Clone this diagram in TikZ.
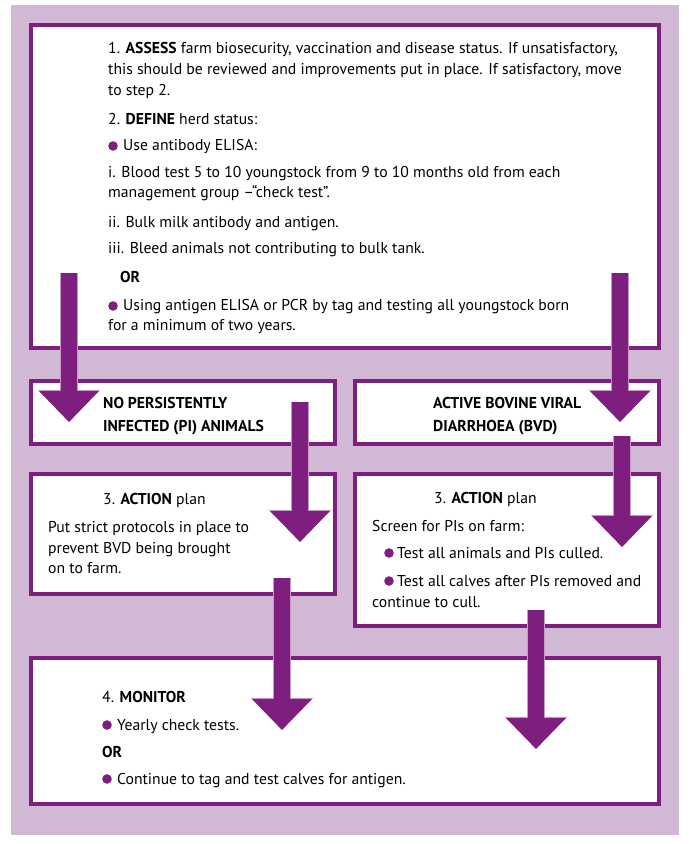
\documentclass[tikz,border=0pt]{standalone}
\usepackage{fontspec}
\setmainfont{PT Sans}
\usetikzlibrary{arrows.meta}
\definecolor{bvdpurple}{RGB}{126,30,126}
\definecolor{bvdlilac}{RGB}{209,185,213}
\begin{document}
\begin{tikzpicture}[x=1pt,y=-1pt,
                    box/.style = {draw=bvdpurple,
                                line width=4pt,
                                fill=white,
                                inner sep=0pt,
                                outer sep=0pt,
                                anchor=north west},
                    txt/.style = {anchor=base west,
                                inner sep=0pt,
                                font=\fontsize{15.7}{20}\selectfont},
                    dot/.style = {fill=bvdpurple},
                    bigarrow/.style = {draw=bvdpurple,
                                line width=16pt,
                                -{Triangle[width=58pt,length=31pt]},
                                preaction={draw=bvdpurple!45!white,
                                    line width=17.4pt,
                                    -{Triangle[width=60.5pt,length=32.2pt]}}}]
                    \useasboundingbox (0,0) rectangle (689,844);
                    % Background panel
                    \fill[bvdlilac] (11,5) rectangle (679,835);
                    % Boxes
                    \node[box,minimum width=628pt,minimum height=323pt] (assess) at (31,25) {};
                    \node[box,minimum width=304pt,minimum height=63pt] (nopi) at (31,381) {};
                    \node[box,minimum width=304pt,minimum height=63pt] (bvd) at (355,381) {};
                    \node[box,minimum width=304pt,minimum height=120pt] (actnopi) at (31,474) {};
                    \node[box,minimum width=304pt,minimum height=152pt] (actbvd) at (355,474) {};
                    \node[box,minimum width=628pt,minimum height=146pt] (monitor) at (31,658) {};
                    % Step 1 and 2
                    \node[txt] (as1) at (108,53) {1. \textbf{ASSESS} farm biosecurity, vaccination and disease status. If unsatisfactory,};
                    \node[txt] (as2) at (108,74) {this should be reviewed and improvements put in place. If satisfactory, move};
                    \node[txt] (as3) at (108,95) {to step 2.};
                    \node[txt] (as4) at (108,124) {2. \textbf{DEFINE} herd status:};
                    \fill[dot] (113,146) circle (4.8);
                    \node[txt] (as5) at (123,150) {Use antibody ELISA:};
                    \node[txt] (as6) at (108,177) {i. Blood test 5 to 10 youngstock from 9 to 10 months old from each};
                    \node[txt] (as7) at (108,197) {management group –“check test”.};
                    \node[txt] (as8) at (108,227) {ii. Bulk milk antibody and antigen.};
                    \node[txt] (as9) at (108,253) {iii. Bleed animals not contributing to bulk tank.};
                    \node[txt] (as10) at (120,282) {\textbf{OR}};
                    \fill[dot] (113,306) circle (4.8);
                    \node[txt] (as11) at (123,310) {Using antigen ELISA or PCR by tag and testing all youngstock born};
                    \node[txt] (as12) at (108,330) {for a minimum of two years.};
                    % Herd status
                    \node[txt] (np1) at (103,408) {\textbf{NO PERSISTENTLY}};
                    \node[txt] (np2) at (103,431) {\textbf{INFECTED (PI) ANIMALS}};
                    \node[txt] (bv1) at (433,408) {\textbf{ACTIVE BOVINE VIRAL}};
                    \node[txt] (bv2) at (433,431) {\textbf{DIARRHOEA (BVD)}};
                    % Step 3
                    \node[txt] (an1) at (103,504) {3. \textbf{ACTION} plan};
                    \node[txt] (an2) at (48,532) {Put strict protocols in place to};
                    \node[txt] (an3) at (48,553) {prevent BVD being brought};
                    \node[txt] (an4) at (48,573) {on to farm.};
                    \node[txt] (ab1) at (434,503) {3. \textbf{ACTION} plan};
                    \node[txt] (ab2) at (372,531) {Screen for PIs on farm:};
                    \fill[dot] (389,553) circle (4.8);
                    \node[txt] (ab3) at (397,558) {Test all animals and PIs culled.};
                    \fill[dot] (389,581) circle (4.8);
                    \node[txt] (ab4) at (397,586) {Test all calves after PIs removed and};
                    \node[txt] (ab5) at (372,607) {continue to cull.};
                    % Step 4
                    \node[txt] (mo1) at (102,702) {4. \textbf{MONITOR}};
                    \fill[dot] (107,725) circle (4.8);
                    \node[txt] (mo2) at (117,730) {Yearly check tests.};
                    \node[txt] (mo3) at (102,757) {\textbf{OR}};
                    \fill[dot] (107,779) circle (4.8);
                    \node[txt] (mo4) at (117,784) {Continue to tag and test calves for antigen.};
                    % Arrows
                    \coordinate (a1s) at (69,273);   \coordinate (a1e) at (69,422);
                    \coordinate (a2s) at (620,273);  \coordinate (a2e) at (620,422);
                    \coordinate (a3s) at (300,402);  \coordinate (a3e) at (300,542);
                    \coordinate (a4s) at (622,436);  \coordinate (a4e) at (622,547);
                    \coordinate (a5s) at (282,578);  \coordinate (a5e) at (282,730);
                    \coordinate (a6s) at (536,610);  \coordinate (a6e) at (536,749);
                    \draw[bigarrow] (a1s) -- (a1e);
                    \draw[bigarrow] (a2s) -- (a2e);
                    \draw[bigarrow] (a3s) -- (a3e);
                    \draw[bigarrow] (a4s) -- (a4e);
                    \draw[bigarrow] (a5s) -- (a5e);
                    \draw[bigarrow] (a6s) -- (a6e);
                \end{tikzpicture}
\end{document}
